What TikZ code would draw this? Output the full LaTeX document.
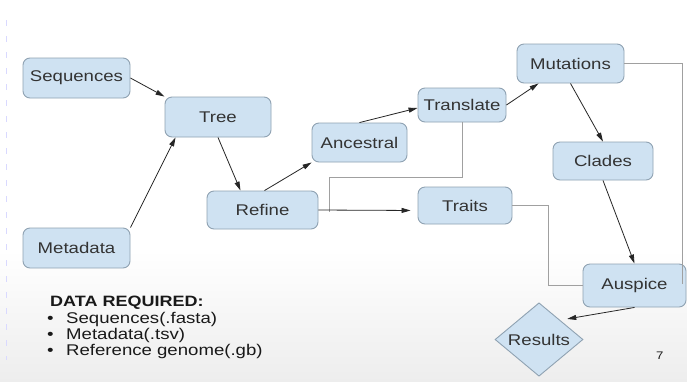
\documentclass[tikz,border=0pt]{standalone}
\usepackage{fontspec}
\setmainfont{Liberation Sans}[FakeStretch=1.2]
\usetikzlibrary{arrows.meta,shapes.geometric,calc}
\definecolor{boxfill}{HTML}{CFE2F2}
\definecolor{boxline}{HTML}{8FA2B2}
\definecolor{txt}{HTML}{333333}
\definecolor{grayline}{HTML}{A0A0A0}
\begin{document}
\begin{tikzpicture}[x=1pt,y=-1pt,
  box/.style={draw=boxline,line width=0.9pt,fill=boxfill,rounded corners=7pt,
    text=txt,font=\fontsize{15.5}{18}\selectfont,inner sep=0pt},
  conn/.style={draw=black!85,line width=0.8pt,-{Triangle[length=9pt,width=5pt]}},
  plain/.style={draw=grayline,line width=0.8pt},
  list/.style={anchor=base west,text=black!90,font=\fontsize{15.5}{18}\selectfont,inner sep=0pt}]
\useasboundingbox (0,0) rectangle (687,381);
\fill[white] (0,0) rectangle (687,381);
\shade[top color=white,bottom color=black!7] (0,250) rectangle (687,381);
\draw[blue!15,line width=1pt,dash pattern=on 6pt off 10pt] (6,20) -- (6,360);

\node[box,minimum width=107pt,minimum height=40pt] (seq) at (76.5,78) {Sequences};
\node[box,minimum width=106pt,minimum height=40pt] (tree) at (218,117) {Tree};
\node[box,minimum width=107pt,minimum height=40pt] (meta) at (76.5,248) {Metadata};
\node[box,minimum width=111pt,minimum height=38pt] (refine) at (262.5,210) {Refine};
\node[box,minimum width=95pt,minimum height=39pt] (anc) at (359.5,142.5) {Ancestral};
\node[box,minimum width=88pt,minimum height=34pt] (trans) at (462,105) {Translate};
\node[box,minimum width=107pt,minimum height=39pt] (mut) at (570.5,63.5) {Mutations};
\node[box,minimum width=100pt,minimum height=38pt] (clades) at (603,161) {Clades};
\node[box,minimum width=94pt,minimum height=37pt] (traits) at (465,205.5) {Traits};
\node[box,minimum width=103pt,minimum height=43pt] (ausp) at (634.5,285.5) {Auspice};
\node[box,diamond,rounded corners=0pt,minimum width=88pt,minimum height=65pt] (res) at (539,339.5) {Results};

\coordinate (ae) at (682.5,284);
\coordinate (rj) at (329,212);

% gray plain connectors
\draw[plain] (trans.south) -- ++(0,55) -| (rj);
\draw[plain] (traits.east) -- ++(36,0) |- (ausp.west);
\draw[plain] (mut.east) -| (ae);

% arrows
\draw[conn] (seq.east) -- (tree.north west);
\draw[conn] (meta.north east) -- ([xshift=11pt]tree.south west);
\draw[conn] (tree.south) -- ([xshift=-22pt]refine.north);
\draw[conn] ([xshift=2pt]refine.north) -- (anc.south west);
\draw[conn] (anc.north) -- ([yshift=-3pt]trans.west);
\draw[conn] (trans.east) -- ([xshift=22pt]mut.south west);
\draw[conn] (mut.south) -- (clades.north);
\draw[conn] (clades.south) -- (ausp.north);
\draw[conn] (ausp.south) -- ([shift={(6pt,2pt)}]res.north east);
\draw[conn,shorten >=7pt] (refine.east) -- ([yshift=-5pt]traits.west);

% text
\node[list,font=\fontsize{15}{18}\bfseries\selectfont] (hd) at (50,306) {DATA REQUIRED:};
\node[list] (b1) at (66,323) {Sequences(.fasta)};
\node[list] (b2) at (66,339) {Metadata(.tsv)};
\node[list] (b3) at (66,355) {Reference genome(.gb)};
\node[list] (d1) at (47,323) {•};
\node[list] (d2) at (47,339) {•};
\node[list] (d3) at (47,355) {•};
\node[list,font=\fontsize{11}{13}\selectfont] (pg) at (656,359) {7};
\end{tikzpicture}
\end{document}
